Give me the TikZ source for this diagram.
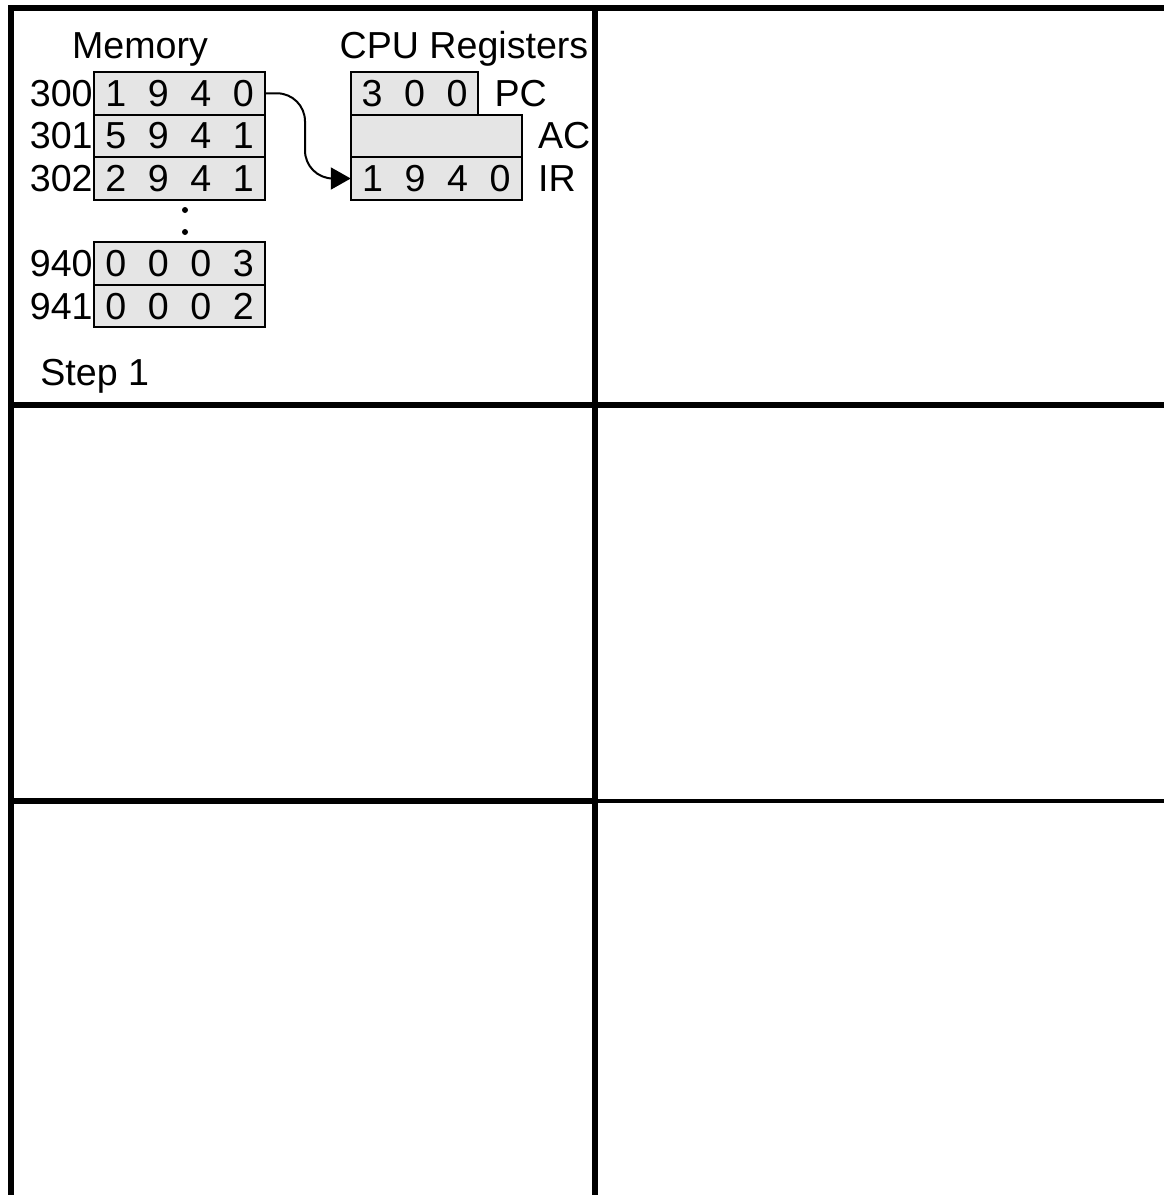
\documentclass[tikz,border=0pt]{standalone}
\usepackage{fontspec}
\setmainfont{Liberation Sans}
\usepackage{tikz}
\usetikzlibrary{arrows.meta,positioning}

\newcommand{\dg}[1]{\makebox[21.25pt]{#1}}

\tikzset{
  cell/.style={draw, line width=1pt, fill=gray!20, inner sep=0pt, outer sep=0pt,
               minimum width=85.5pt, minimum height=21.3pt},
  addr/.style={inner sep=0.5pt, anchor=east},
  reglabel/.style={inner sep=0pt, anchor=west},
}

\begin{document}
\begin{tikzpicture}[x=0.5pt, y=-0.5pt, font=\fontsize{18.8}{22}\selectfont]
\useasboundingbox (0,0) rectangle (1164,1195);
% Panel grid
\draw[line width=3pt] (11,1195) -- (11,7.5) -- (1164,7.5);
\draw[line width=2.8pt] (595,5) -- (595,1195);
\draw[line width=3pt] (8,405) -- (1164,405);
\draw[line width=2.8pt] (8,801) -- (595,801);
\draw[line width=2pt] (595,801) -- (1164,801);

% Memory
\node[anchor=base] (memtitle) at (140,58) {Memory};
\node[cell] (m300) at (179.5,93.3) {\dg{1}\dg{9}\dg{4}\dg{0}};
\node[cell, below=0pt of m300] (m301) {\dg{5}\dg{9}\dg{4}\dg{1}};
\node[cell, below=0pt of m301] (m302) {\dg{2}\dg{9}\dg{4}\dg{1}};
\node[cell] (m940) at (179.5,263.5) {\dg{0}\dg{0}\dg{0}\dg{3}};
\node[cell, below=0pt of m940] (m941) {\dg{0}\dg{0}\dg{0}\dg{2}};
% Addresses
\node[addr] (a300) at (m300.west) {300};
\node[addr] (a301) at (m301.west) {301};
\node[addr] (a302) at (m302.west) {302};
\node[addr] (a940) at (m940.west) {940};
\node[addr] (a941) at (m941.west) {941};
% Gap dots
\fill (185,210) circle[radius=1.5pt];
\fill (185,232) circle[radius=1.5pt];

% CPU registers
\node[anchor=base] (cputitle) at (464,58) {CPU Registers};
\node[cell, minimum width=63.5pt] (pc) at (414.5,93.3) {\dg{3}\dg{0}\dg{0}};
\node[cell, anchor=north west] (ac) at (pc.south west) {};
\node[cell, anchor=north west] (ir) at (ac.south west) {\dg{1}\dg{9}\dg{4}\dg{0}};
\node[reglabel, right=8pt of pc] (pclabel) {PC};
\node[reglabel, right=8pt of ac] (aclabel) {AC};
\node[reglabel, right=8pt of ir] (irlabel) {IR};

% Fetch: memory -> IR
\coordinate (bend) at (305,136);
\draw[line width=1pt, -{Triangle[length=10pt,width=11pt]}, rounded corners=14pt]
  (m300.east) -| (bend |- ir.west) -- (ir.west);

% Step label
\node[anchor=base west, inner sep=0pt] (steplabel) at (40,385) {Step 1};
\end{tikzpicture}
\end{document}
